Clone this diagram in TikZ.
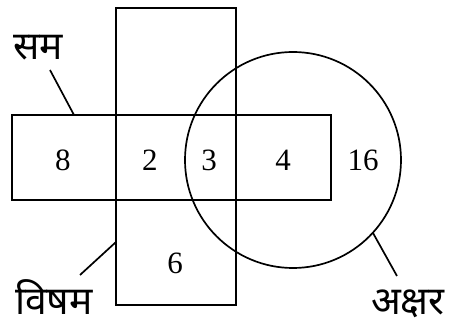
\documentclass[tikz,border=0pt]{standalone}
\usepackage{fontspec}
\setmainfont{Liberation Serif}
\newfontfamily\devfont[Script=Devanagari]{Noto Sans}
\usetikzlibrary{positioning}

\begin{document}
\begin{tikzpicture}[x=1pt,y=-1pt,line width=1.7pt,
 region/.style={draw,inner sep=0pt},
 num/.style={font=\fontsize{31}{32}\selectfont,inner sep=0pt},
 tag/.style={font=\devfont\fontsize{39}{40}\selectfont,inner sep=0pt}]
\useasboundingbox (0,0) rectangle (451,326);
\node[region,minimum width=319pt,minimum height=85pt] (even) at (171.5,157.5) {};
\node[region,minimum width=120pt,minimum height=297pt] (odd) at (176,156.5) {};
\node[region,circle,minimum size=216pt] (letter) at (293,160) {};
\node[num] (n8) at (63,160) {8};
\node[num] (n2) at (150,160) {2};
\node[num] (n3) at (209,160) {3};
\node[num] (n4) at (283,160) {4};
\node[num] (n16) at (363,160) {16};
\node[num] (n6) at (175,263) {6};
\node[tag] (sam) at (38,48) {सम};
\node[tag] (visham) at (54,297) {विषम};
\node[tag] (akshar) at (408,304) {अक्षर};
% pointer lines
\coordinate (samstart) at (50,70);
\coordinate (samend) at (74,115);
\coordinate (vishamstart) at (80,275);
\coordinate (vishamend) at (116,242);
\coordinate (aksharstart) at (397,276);
\coordinate (aksharend) at (373,233);
\draw (samstart) -- (samend);
\draw (vishamstart) -- (vishamend);
\draw (aksharstart) -- (aksharend);
\end{tikzpicture}
\end{document}
